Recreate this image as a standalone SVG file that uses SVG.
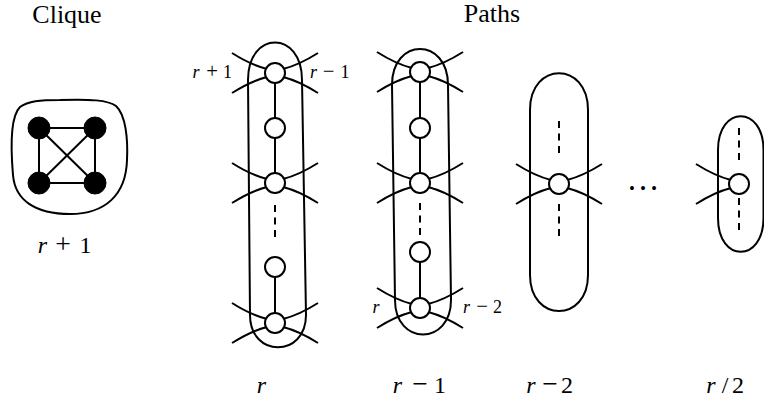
<svg xmlns="http://www.w3.org/2000/svg" width="764" height="400" viewBox="0 0 764 400">
<style>
.ln{fill:none;stroke:#000;stroke-width:2;stroke-linecap:butt}
.ds{fill:none;stroke:#000;stroke-width:2;stroke-dasharray:7 5.5}
.v{fill:#fff;stroke:#000;stroke-width:2}
.b{fill:#000;stroke:#000;stroke-width:1}
.t{font-family:"Liberation Serif","Times New Roman",serif;fill:#000}
.it{font-style:italic}
.op{font-size:1.15em}
</style>
<rect width="764" height="400" fill="#fff"/>
<text class="t" x="67" y="23" font-size="26" text-anchor="middle">Clique</text>
<text class="t" x="492" y="22" font-size="26" text-anchor="middle">Paths</text>

<g id="clique">
<path class="ln" d="M60 100 C90 99 108 100 116 106 C126 115 128 140 127 160 C126 195 105 214 70 214 C35 214 15 200 13 175 C10 140 12 115 20 107 C28 101 40 100 60 100 Z"/>
<g class="ln"><line x1="39" y1="128" x2="95" y2="128"/><line x1="39" y1="183" x2="95" y2="183"/><line x1="39" y1="128" x2="39" y2="183"/><line x1="95" y1="128" x2="95" y2="183"/><line x1="39" y1="128" x2="95" y2="183"/><line x1="95" y1="128" x2="39" y2="183"/></g>
<circle class="b" cx="39" cy="128" r="11"/><circle class="b" cx="95" cy="128" r="11"/><circle class="b" cx="39" cy="183" r="11"/><circle class="b" cx="95" cy="183" r="11"/>
<text class="t" y="253" font-size="24" text-anchor="middle"><tspan class="it" x="42.5">r</tspan><tspan class="op" x="63">+</tspan><tspan x="85.5">1</tspan></text>
</g>

<g id="ovals" class="ln">
<path id="oval-r" d="M248 80 C248 30 302 30 302 80 L306 315 C306 358 250 358 250 315 Z"/>
<path id="oval-r1" d="M392 85 C392 37 448 37 448 85 L451 300 C451 346 395 346 395 300 Z"/>
<path id="oval-r2" d="M530 110 C530 61 588 61 588 110 L588 275 C588 323 530 323 530 275 Z"/>
<path id="oval-r-half" d="M718 150 C718 105 763.5 105 763.5 150 L763.5 218 C763.5 263 718 263 718 218 Z"/>
</g>

<defs>
<path id="hub" d="M-43 -20 Q-24 -8 -8 -4 M-43 20 Q-24 8 -8 4 M43 -20 Q24 -8 8 -4 M43 20 Q24 8 8 4"/>
<path id="hubL" d="M-43 -20 Q-24 -8 -8 -4 M-43 20 Q-24 8 -8 4"/>
</defs>

<g id="connectors">
<g class="ln">
<line x1="275" y1="73" x2="275" y2="183"/><line x1="275" y1="267" x2="275" y2="323"/>
<line x1="420" y1="72" x2="420" y2="183"/><line x1="420" y1="252" x2="420" y2="308"/>
<use href="#hub" x="275" y="73"/>
<use href="#hub" x="275" y="183"/>
<use href="#hub" x="275" y="323"/>
<use href="#hub" x="420" y="72"/>
<use href="#hub" x="420" y="183"/>
<use href="#hub" x="420" y="308"/>
<use href="#hub" x="559" y="184"/>
<use href="#hubL" x="739" y="184"/>
</g>
<g class="ds">
<line x1="275" y1="205" x2="275" y2="240"/>
<line x1="420" y1="203" x2="420" y2="240"/>
<line x1="559" y1="121" x2="559" y2="157"/><line x1="559" y1="204" x2="559" y2="239"/>
<line x1="739" y1="128" x2="739" y2="163"/><line x1="739" y1="198" x2="739" y2="233"/>
</g>
</g>

<g id="path-r">
<circle class="v" cx="275" cy="73" r="10"/><circle class="v" cx="275" cy="128" r="10"/><circle class="v" cx="275" cy="183" r="10"/><circle class="v" cx="275" cy="267" r="10"/><circle class="v" cx="275" cy="323" r="10"/>
<text class="t" y="78" font-size="18" text-anchor="middle"><tspan class="it" x="196">r</tspan><tspan class="op" x="212">+</tspan><tspan x="227.5">1</tspan></text>
<text class="t" y="78" font-size="18" text-anchor="middle"><tspan class="it" x="313.5">r</tspan><tspan class="op" x="328.5">−</tspan><tspan x="345">1</tspan></text>
<text class="t it" x="261.5" y="393" font-size="24" text-anchor="middle">r</text>
</g>

<g id="path-r-1">
<circle class="v" cx="420" cy="72" r="10"/><circle class="v" cx="420" cy="128" r="10"/><circle class="v" cx="420" cy="183" r="10"/><circle class="v" cx="420" cy="252" r="10"/><circle class="v" cx="420" cy="308" r="10"/>
<text class="t it" x="376" y="313" font-size="18" text-anchor="middle">r</text>
<text class="t" y="313" font-size="18" text-anchor="middle"><tspan class="it" x="466.5">r</tspan><tspan class="op" x="482">−</tspan><tspan x="497.5">2</tspan></text>
<text class="t" y="393" font-size="24" text-anchor="middle"><tspan class="it" x="397.5">r</tspan><tspan class="op" x="420">−</tspan><tspan x="440">1</tspan></text>
</g>

<g id="path-r-2">
<circle class="v" cx="559" cy="184" r="10"/>
<text class="t" y="393" font-size="24" text-anchor="middle"><tspan class="it" x="531">r</tspan><tspan class="op" x="550">−</tspan><tspan x="567">2</tspan></text>
</g>

<text class="t" x="643" y="190" font-size="33" text-anchor="middle">…</text>

<g id="path-r-half">
<circle class="v" cx="739" cy="184" r="10"/>
<text class="t" y="393" font-size="24" text-anchor="middle"><tspan class="it" x="711">r</tspan><tspan x="725">/</tspan><tspan x="738">2</tspan></text>
</g>
</svg>
